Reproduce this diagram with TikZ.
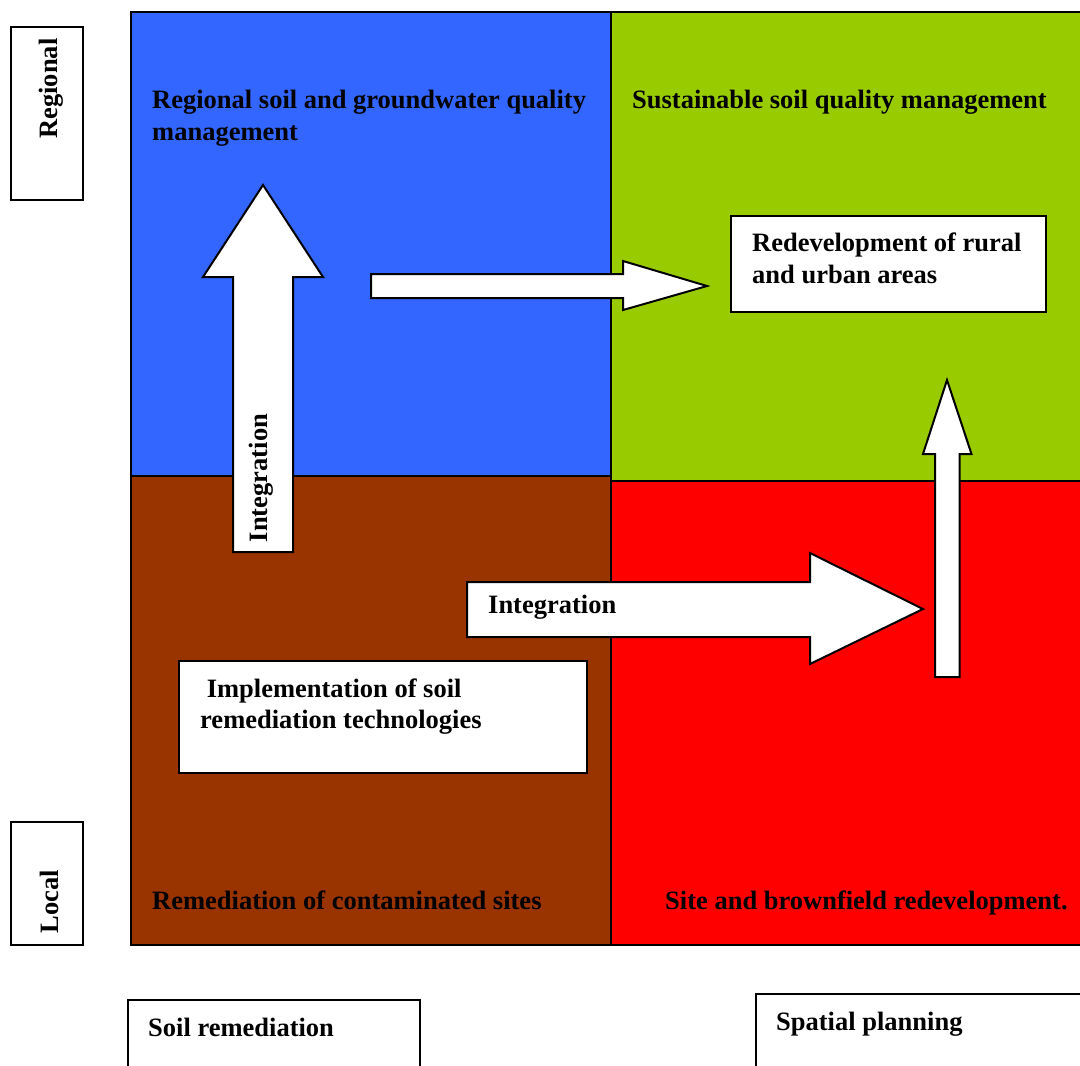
\documentclass[tikz,border=0pt]{standalone}
\usepackage{fontspec}
\setmainfont{Liberation Serif}
\definecolor{qblue}{HTML}{3366FF}
\definecolor{qgreen}{HTML}{99CC00}
\definecolor{qbrown}{HTML}{993300}
\definecolor{qred}{HTML}{FF0000}
\begin{document}
\begin{tikzpicture}[x=1pt,y=-1pt,
  every node/.style={font=\fontsize{26.5}{31.5}\selectfont\bfseries, inner sep=0pt},
  quad/.style={draw=black, line width=2pt},
  framebox/.style={draw=black, line width=2pt, fill=white, rectangle},
  blockarrow/.style={draw=black, line width=2pt, fill=white, line join=miter},
  lbl/.style={anchor=base west, align=left},
  vlbl/.style={rotate=90, anchor=base},
]
\useasboundingbox (0,0) rectangle (1080,1066);
\clip (0,0) rectangle (1080,1066);

% four quadrants
\draw[quad, fill=qblue]  (131,12)  rectangle (611,476);
\draw[quad, fill=qbrown] (131,476) rectangle (611,945);
\draw[quad, fill=qgreen] (611,12)  rectangle (1095,481);
\draw[quad, fill=qred]   (611,481) rectangle (1095,945);

% scale labels on the left
\node[framebox, minimum width=72pt, minimum height=173pt] (regbox) at (47,113.5) {};
\node[vlbl] (regional) at (57,88.5) {Regional};
\node[framebox, minimum width=72pt, minimum height=123pt] (locbox) at (47,883.5) {};
\node[vlbl] (local) at (58,902) {Local};

% block arrows
\draw[blockarrow] (233,552) -- (233,277) -- (203,277) -- (263,185) -- (323,277)
  -- (293,277) -- (293,552) -- cycle;
\draw[blockarrow] (371,274) -- (623,274) -- (623,261) -- (707,286) -- (623,310)
  -- (623,298) -- (371,298) -- cycle;
\draw[blockarrow] (467,582) -- (810,582) -- (810,553) -- (923,609) -- (810,664)
  -- (810,637) -- (467,637) -- cycle;
\draw[blockarrow] (935,677) -- (935,454) -- (923,454) -- (947,380) -- (971.5,454)
  -- (959.5,454) -- (959.5,677) -- cycle;

\node[vlbl] (intup) at (267.5,478) {Integration};
\node[lbl] (intright) at (488,613) {Integration};

% inner boxes
\node[framebox, minimum width=315pt, minimum height=96pt] (redevbox) at (888.5,264) {};
\node[framebox, minimum width=408pt, minimum height=112pt] (implbox) at (383,717) {};

% quadrant titles (multi-line labels sit on the baseline of their last line)
\node[lbl] (qtl) at (152,140) {Regional soil and groundwater quality\\management};
\node[lbl] (qtr) at (632,108.5) {Sustainable soil quality management};
\node[lbl] (qbl) at (152,909) {Remediation of contaminated sites};
\node[lbl] (qbr) at (665,909) {Site and brownfield redevelopment.};

\node[lbl] (redev) at (752,283) {Redevelopment of rural\\and urban areas};
\node[lbl] (impl) at (200,728.5) {\hspace*{6.6pt}Implementation of soil\\remediation technologies};

% axis boxes at the bottom
\node[framebox, minimum width=292pt, minimum height=90pt, anchor=north west] (soilbox) at (127,999) {};
\node[lbl] (soil) at (148,1036) {Soil remediation};
\node[framebox, minimum width=340pt, minimum height=90pt, anchor=north west] (spatbox) at (755,993) {};
\node[lbl] (spat) at (776,1030) {Spatial planning};
\end{tikzpicture}
\end{document}
